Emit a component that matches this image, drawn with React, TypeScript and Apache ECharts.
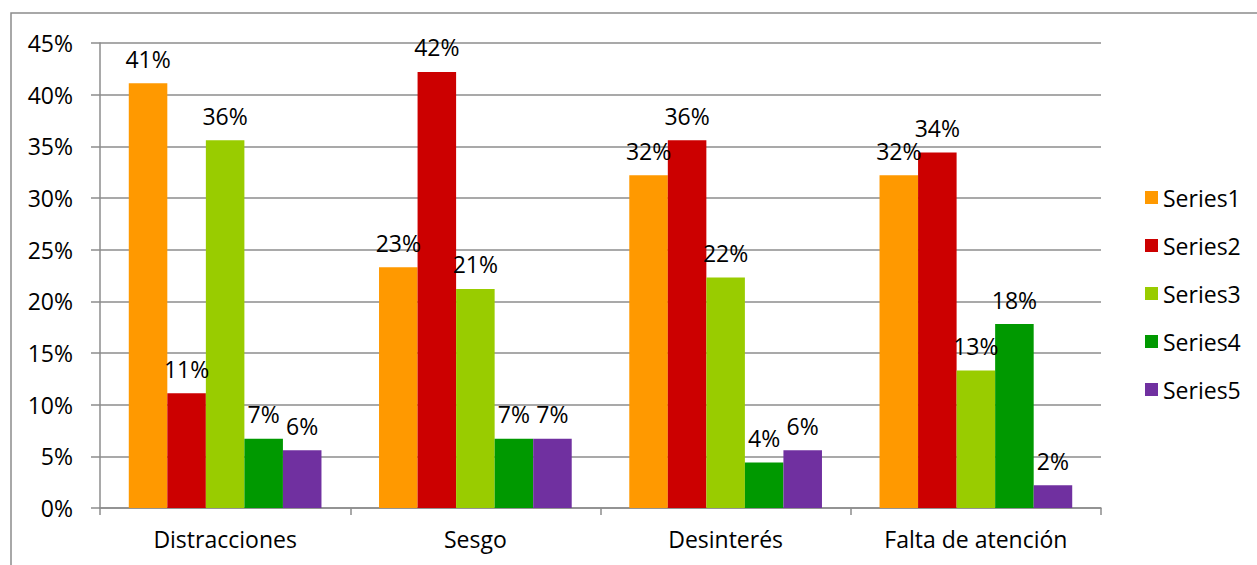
import React, { useEffect, useRef } from "react";
import * as echarts from "echarts";

const categories = ["Distracciones", "Sesgo", "Desinterés", "Falta de atención"];
const seriesNames = ["Series1", "Series2", "Series3", "Series4", "Series5"];
const series1 = [41.1, 23.3, 32.2, 32.2];
const series2 = [11.1, 42.2, 35.6, 34.4];
const series3 = [35.6, 21.2, 22.3, 13.3];
const series4 = [6.7, 6.7, 4.4, 17.8];
const series5 = [5.6, 6.7, 5.6, 2.2];
const colors = ["#FF9900", "#CC0000", "#99CC00", "#009900", "#7030A0"];

const FONT = "Open Sans";
const FS = 23;

export default function App() {
  const ref = useRef<HTMLDivElement>(null);
  useEffect(() => {
    if (!ref.current) return;
    const chart = echarts.init(ref.current, null, { renderer: "svg" });
    const all = [series1, series2, series3, series4, series5];
    chart.setOption({
      animation: false,
      color: colors,
      textStyle: { fontFamily: FONT },
      graphic: [
        {
          type: "rect",
          shape: { x: 11, y: 13, width: 1400, height: 700 },
          style: { fill: "none", stroke: "#8c8c8c", lineWidth: 1.5 },
          silent: true,
        },
      ],
      grid: { left: 100, right: 156, top: 43, bottom: 57, containLabel: false },
      legend: {
        orient: "vertical",
        left: 1145,
        top: 186,
        itemWidth: 13,
        itemHeight: 13,
        itemGap: 25,
        padding: 0,
        icon: "rect",
        textStyle: { fontSize: FS, lineHeight: 23, color: "#000", fontFamily: FONT },
        data: seriesNames,
      },
      xAxis: {
        type: "category",
        data: categories,
        axisLine: { lineStyle: { color: "#8c8c8c", width: 1.5 } },
        axisTick: { show: true, length: 7, alignWithLabel: false, lineStyle: { color: "#8c8c8c", width: 1.5 } },
        axisLabel: { fontSize: FS, color: "#000", margin: 19, fontFamily: FONT },
      },
      yAxis: {
        type: "value",
        min: 0,
        max: 45,
        interval: 5,
        axisLine: { show: true, lineStyle: { color: "#8c8c8c", width: 1.5 } },
        axisTick: { show: true, length: 9, lineStyle: { color: "#8c8c8c", width: 1.5 } },
        axisLabel: { fontSize: FS, color: "#000", margin: 27, formatter: "{value}%", fontFamily: FONT },
        splitLine: { lineStyle: { color: "#8c8c8c", width: 1.5 } },
      },
      series: all.map((d, i) => ({
        name: seriesNames[i],
        type: "bar",
        data: d,
        barGap: "0%",
        barCategoryGap: "23%",
        itemStyle: { color: colors[i] },
        label: {
          show: true,
          position: "top",
          distance: 13,
          fontSize: FS,
          color: "#000",
          fontFamily: FONT,
          formatter: (p: any) => Math.round(p.value) + "%",
        },
      })),
    });
    return () => chart.dispose();
  }, []);
  return (
    <div
      ref={ref}
      style={{ position: "absolute", left: 0, top: 0, width: 1257, height: 565, background: "#fff" }}
    />
  );
}
